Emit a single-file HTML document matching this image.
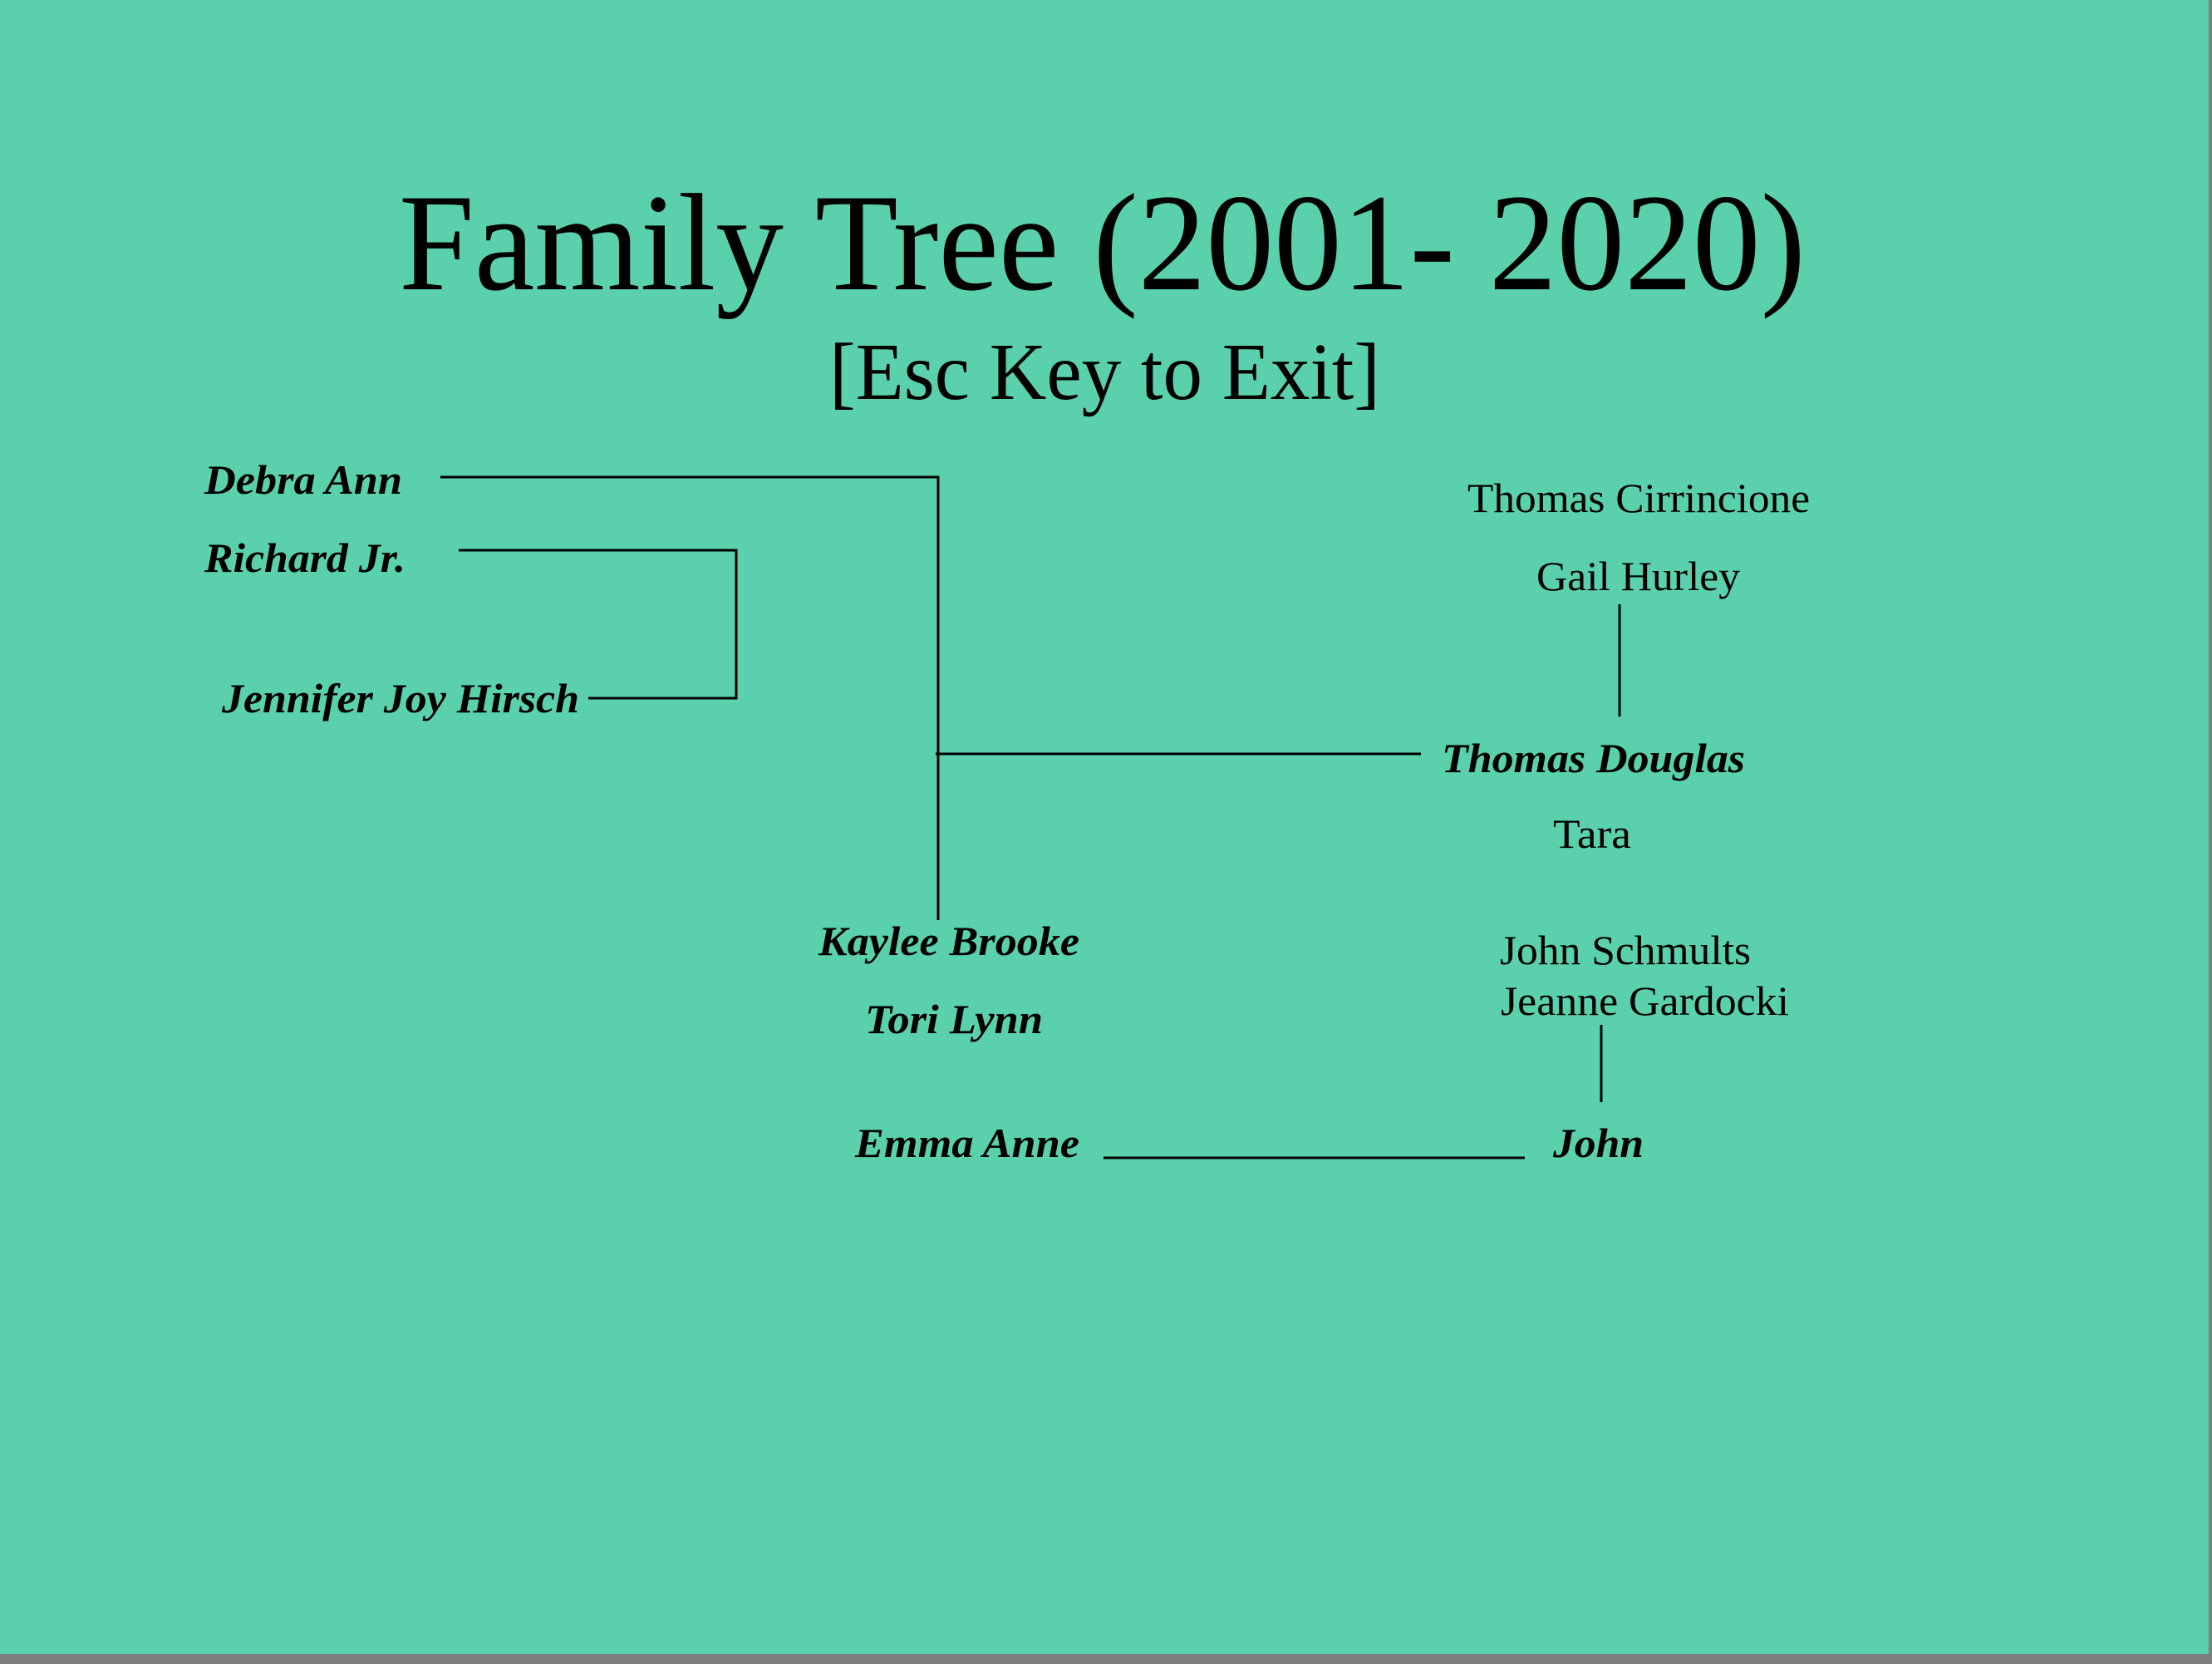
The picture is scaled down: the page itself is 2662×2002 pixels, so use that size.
<!DOCTYPE html>
<html><head><meta charset="utf-8"><style>
html,body{margin:0;padding:0;background:#8a8a8a;}
body{width:2662px;height:2002px;overflow:hidden;position:relative;}
svg{position:absolute;left:0;top:0;}
</style></head><body>
<svg width="2662" height="2002" viewBox="0 0 2662 2002" xmlns="http://www.w3.org/2000/svg">
<rect x="0" y="0" width="2662" height="2002" fill="#7d7d7d"/>
<rect x="0" y="0" width="2658" height="1990" fill="#5AD0AC"/>
<g font-family="Liberation Serif, serif" fill="#000">
<text x="480" y="348" font-size="167" textLength="1693" lengthAdjust="spacingAndGlyphs">Family Tree (2001- 2020)</text>
<text x="998" y="480" font-size="97" textLength="663" lengthAdjust="spacingAndGlyphs">[Esc Key to Exit]</text>
<g font-weight="bold" font-style="italic" font-size="50">
<text x="246" y="594" textLength="238" lengthAdjust="spacingAndGlyphs">Debra Ann</text>
<text x="246" y="688" textLength="242" lengthAdjust="spacingAndGlyphs">Richard Jr.</text>
<text x="267" y="857" textLength="430" lengthAdjust="spacingAndGlyphs">Jennifer Joy Hirsch</text>
<text x="985" y="1149" textLength="314" lengthAdjust="spacingAndGlyphs">Kaylee Brooke</text>
<text x="1041" y="1243" textLength="214" lengthAdjust="spacingAndGlyphs">Tori Lynn</text>
<text x="1029" y="1392" textLength="270" lengthAdjust="spacingAndGlyphs">Emma Anne</text>
<text x="1735" y="929" textLength="365" lengthAdjust="spacingAndGlyphs">Thomas Douglas</text>
<text x="1869" y="1392" textLength="109" lengthAdjust="spacingAndGlyphs">John</text>
</g>
<g font-size="50">
<text x="1766" y="616" textLength="412" lengthAdjust="spacingAndGlyphs">Thomas Cirrincione</text>
<text x="1849" y="710" textLength="245" lengthAdjust="spacingAndGlyphs">Gail Hurley</text>
<text x="1869" y="1020" textLength="94" lengthAdjust="spacingAndGlyphs">Tara</text>
<text x="1805" y="1160" textLength="302" lengthAdjust="spacingAndGlyphs">John Schmults</text>
<text x="1806" y="1221" textLength="347" lengthAdjust="spacingAndGlyphs">Jeanne Gardocki</text>
</g>
</g>
<g stroke="#000" stroke-width="3" fill="none">
<polyline points="530,574 1129,574 1129,1107"/>
<polyline points="552,662 886,662 886,840 708,840"/>
<line x1="1126" y1="907" x2="1710" y2="907"/>
<line x1="1949" y1="727" x2="1949" y2="862"/>
<line x1="1927" y1="1233" x2="1927" y2="1326"/>
<line x1="1328" y1="1393" x2="1835" y2="1393"/>
</g>
</svg>
</body></html>
